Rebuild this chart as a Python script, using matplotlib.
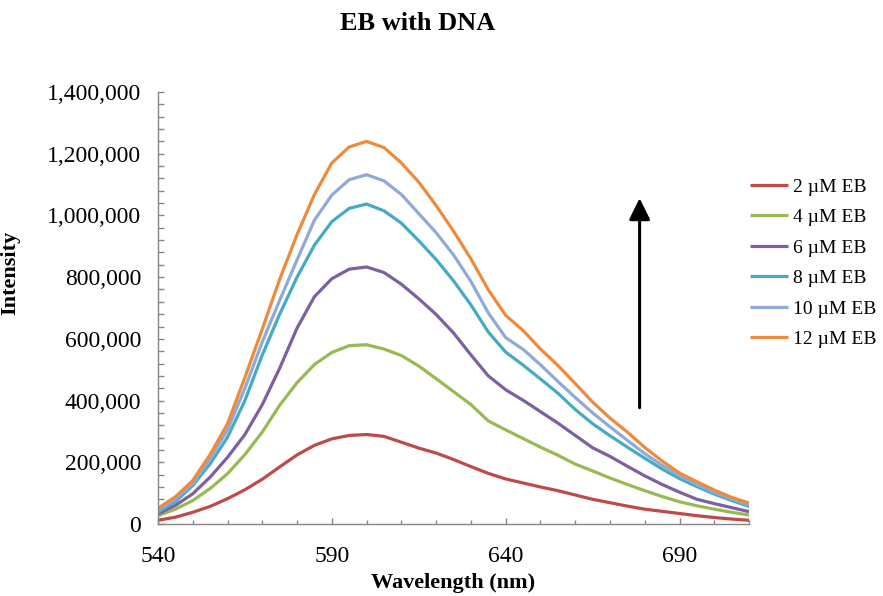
import matplotlib
matplotlib.use("Agg")
import matplotlib.pyplot as plt
from matplotlib.ticker import MultipleLocator, FuncFormatter

# Emission wavelengths (nm)
wavelength = [540, 545, 550, 555, 560, 565, 570, 575, 580, 585, 590, 595,
              600, 605, 610, 615, 620, 625, 630, 635, 640, 645, 650, 655,
              660, 665, 670, 675, 680, 685, 690, 695, 700, 705, 710]

# Fluorescence intensity for each EB concentration
eb_2uM = [12000, 22000, 38000, 57000, 82000, 111000, 145000, 185000, 224000,
          255000, 276000, 287000, 290000, 284000, 265000, 246000, 230000,
          209000, 186000, 164000, 146000, 133000, 120000, 108000, 94000,
          80000, 69000, 58000, 48000, 41000, 34000, 27000, 21000, 16000, 12000]
eb_4uM = [27000, 48000, 76000, 115000, 163000, 225000, 298000, 385000, 458000,
          517000, 556000, 578000, 581000, 567000, 546000, 512000, 471000,
          429000, 387000, 334000, 305000, 277000, 249000, 223000, 194000,
          172000, 149000, 128000, 108000, 89000, 72000, 59000, 48000, 38000, 29000]
eb_6uM = [33000, 60000, 98000, 152000, 216000, 290000, 387000, 505000, 635000,
          737000, 795000, 826000, 833000, 815000, 777000, 730000, 679000,
          619000, 548000, 480000, 435000, 401000, 364000, 327000, 287000,
          247000, 219000, 187000, 156000, 128000, 103000, 80000, 66000, 53000, 40000]
eb_8uM = [38000, 72000, 125000, 195000, 281000, 400000, 548000, 680000, 800000,
          904000, 980000, 1023000, 1037000, 1015000, 975000, 918000, 857000,
          788000, 710000, 622000, 557000, 515000, 470000, 424000, 371000,
          325000, 286000, 249000, 213000, 178000, 147000, 121000, 97000, 76000, 57000]
eb_10uM = [44000, 80000, 132000, 212000, 305000, 440000, 590000, 725000, 856000,
           985000, 1066000, 1116000, 1132000, 1112000, 1068000, 1006000, 944000,
           872000, 786000, 684000, 604000, 566000, 516000, 462000, 410000,
           360000, 315000, 271000, 228000, 190000, 158000, 127000, 103000, 81000, 61000]
eb_12uM = [51000, 88000, 141000, 225000, 325000, 475000, 632000, 793000, 938000,
           1068000, 1170000, 1222000, 1240000, 1220000, 1170000, 1108000, 1032000,
           949000, 859000, 759000, 676000, 627000, 567000, 514000, 455000,
           395000, 343000, 298000, 248000, 204000, 165000, 137000, 110000, 86000, 68000]

series = [eb_2uM, eb_4uM, eb_6uM, eb_8uM, eb_10uM, eb_12uM]
labels = ["2 \u00b5M EB", "4 \u00b5M EB", "6 \u00b5M EB",
          "8 \u00b5M EB", "10 \u00b5M EB", "12 \u00b5M EB"]
colors = ["#BE4B48", "#98B954", "#7D60A0", "#46AAC5", "#8FAAD6", "#EE8A3C"]

x_major_ticks = [540, 590, 640, 690]

plt.rcParams["font.family"] = ["Liberation Serif", "DejaVu Serif"]

fig = plt.figure(figsize=(8.83, 5.96), dpi=100)
ax = fig.add_axes([0.1789, 0.1208, 0.6695, 0.7248])

for vals, lab, col in zip(series, labels, colors):
    ax.plot(wavelength, vals, color=col, lw=2.3, label=lab,
            solid_joinstyle="round", solid_capstyle="butt")

ax.set_xlim(540, 710)
ax.set_ylim(0, 1400000)
ax.set_xticks(x_major_ticks)
ax.xaxis.set_minor_locator(MultipleLocator(10))
ax.yaxis.set_major_locator(MultipleLocator(200000))
ax.yaxis.set_minor_locator(MultipleLocator(40000))
ax.yaxis.set_major_formatter(FuncFormatter(lambda v, p: f"{v:,.0f}"))

for side in ("top", "right"):
    ax.spines[side].set_visible(False)
for side in ("left", "bottom"):
    ax.spines[side].set_color("#868686")
    ax.spines[side].set_linewidth(1.0)

ax.tick_params(axis="both", which="both", direction="in", color="#868686",
               width=1.0, labelsize=17)
ax.tick_params(axis="x", which="major", length=4.5, pad=16)
ax.tick_params(axis="x", which="minor", length=3.0)
ax.tick_params(axis="y", which="both", length=4.5, pad=12)

ax.set_xlabel("Wavelength (nm)", fontsize=16, fontweight="bold")
ax.xaxis.set_label_coords(0.5, -0.113)
ax.set_ylabel("Intensity", fontsize=16, fontweight="bold")
ax.yaxis.set_label_coords(-0.233, 0.581)

fig.text(0.4734, 0.961, "EB with DNA", fontsize=19, fontweight="bold",
         ha="center", va="center")

# Arrow showing increasing EB concentration
ax.annotate("", xy=(678.5, 1056000), xytext=(678.5, 377000),
            arrowprops=dict(arrowstyle="-|>,head_length=0.65,head_width=0.32",
                            mutation_scale=20, lw=2.2, color="black",
                            shrinkA=0, shrinkB=0))

ax.legend(loc="upper left", bbox_to_anchor=(0.849, 0.701),
          bbox_transform=fig.transFigure, frameon=False, fontsize=14,
          handlelength=1.95, handletextpad=0.3, labelspacing=0.66,
          borderpad=0, borderaxespad=0)

fig.savefig("out.png", dpi=100)
